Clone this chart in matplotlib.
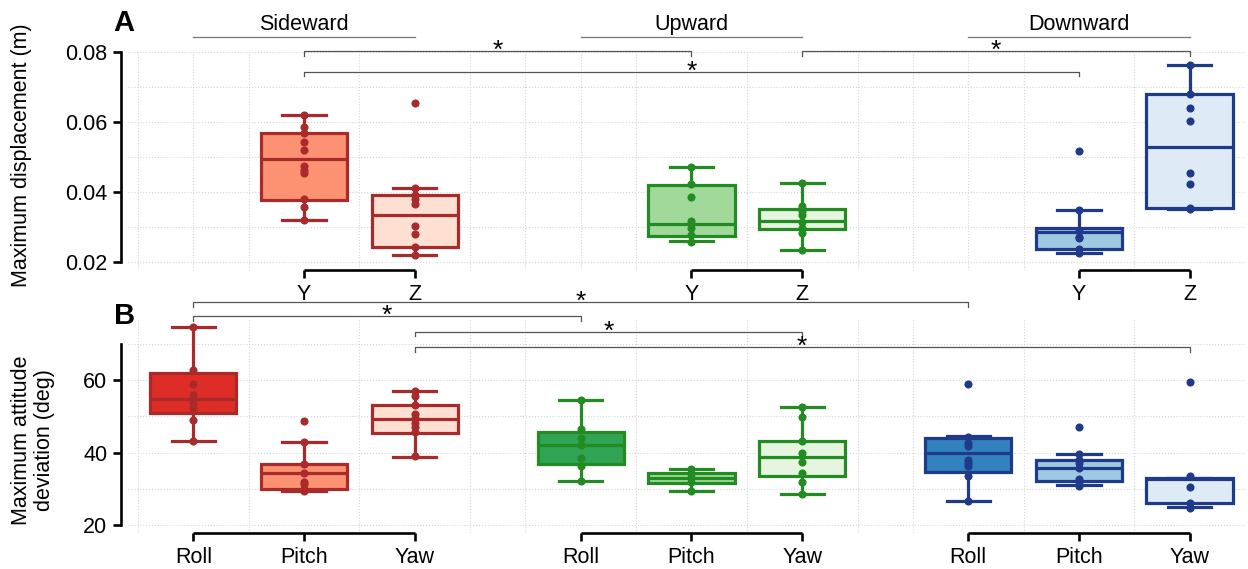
import numpy as np
import matplotlib
matplotlib.use("Agg")
import matplotlib.pyplot as plt

plt.rcParams['font.family'] = ['Liberation Sans', 'DejaVu Sans']

# x positions of the boxes
pos_a = [2, 3, 5.5, 6.5, 9, 10]
pos_b = [1, 2, 3, 4.5, 5.5, 6.5, 8, 9, 10]
labels_a = ['Y', 'Z'] * 3
labels_b = ['Roll', 'Pitch', 'Yaw'] * 3
groups = ['Sideward', 'Upward', 'Downward']

# panel A - maximum displacement (m), box stats
whishi_a = [0.0620, 0.0411, 0.0470, 0.0425, 0.0349, 0.0763]
q3_a = [0.0568, 0.0390, 0.0420, 0.0351, 0.0296, 0.0679]
med_a = [0.0494, 0.0334, 0.0309, 0.0318, 0.0287, 0.0529]
q1_a = [0.0376, 0.0244, 0.0274, 0.0293, 0.0236, 0.0353]
whislo_a = [0.0321, 0.0220, 0.0260, 0.0234, 0.0227, 0.0352]

side_y = [0.0620, 0.0585, 0.0568, 0.0542, 0.0520, 0.0474, 0.0463, 0.0455, 0.0379, 0.0356, 0.0320]
side_z = [0.0653, 0.0411, 0.0391, 0.0379, 0.0366, 0.0303, 0.0279, 0.0244, 0.0220]
up_y = [0.0470, 0.0422, 0.0387, 0.0318, 0.0309, 0.0298, 0.0277, 0.0258]
up_z = [0.0425, 0.0360, 0.0346, 0.0334, 0.0315, 0.0298, 0.0282, 0.0234]
down_y = [0.0518, 0.0349, 0.0289, 0.0272, 0.0268, 0.0236, 0.0227]
down_z = [0.0763, 0.0679, 0.0639, 0.0604, 0.0453, 0.0423, 0.0353, 0.0352]
pts_a = [side_y, side_z, up_y, up_z, down_y, down_z]

# panel B - maximum attitude deviation (deg)
whishi_b = [74.7, 43.0, 57.1, 54.5, 35.4, 52.5, 44.6, 39.5, 33.0]
q3_b = [62.0, 36.8, 53.1, 45.6, 34.4, 43.3, 44.1, 37.9, 32.9]
med_b = [54.7, 34.3, 49.2, 42.1, 32.9, 38.8, 39.9, 35.6, 32.7]
q1_b = [51.0, 29.9, 45.3, 36.8, 31.7, 33.6, 34.7, 32.1, 26.0]
whislo_b = [43.2, 29.4, 38.8, 32.2, 29.3, 28.5, 26.6, 31.0, 25.0]

roll_s = [74.7, 62.8, 58.9, 55.9, 53.6, 52.2, 49.0, 43.2]
pitch_s = [48.7, 43.0, 36.8, 34.3, 31.9, 31.2, 29.9, 29.3]
yaw_s = [57.1, 55.6, 53.0, 50.6, 49.4, 48.2, 46.9, 45.7, 39.0]
roll_u = [54.5, 46.4, 43.9, 42.1, 38.4, 36.3, 32.2]
pitch_u = [35.4, 34.4, 33.3, 31.9, 29.3]
yaw_u = [52.5, 49.9, 43.2, 40.0, 37.3, 34.4, 31.9, 28.5]
roll_d = [58.8, 44.4, 42.7, 41.9, 37.9, 37.2, 36.4, 33.5, 26.5]
pitch_d = [47.1, 39.5, 37.9, 37.2, 35.6, 32.7, 32.0, 30.9]
yaw_d = [59.4, 33.5, 30.6, 26.1, 24.6]
pts_b = [roll_s, pitch_s, yaw_s, roll_u, pitch_u, yaw_u, roll_d, pitch_d, yaw_d]

edge = {'Sideward': '#a82a2a', 'Upward': '#228b22', 'Downward': '#1f3a8a'}
fills_a = ['#fc9272', '#fee0d2', '#a1d99b', '#e5f5e0', '#9ecae1', '#deebf7']
fills_b = ['#de2d26', '#fc9272', '#fee0d2', '#31a354', '#a1d99b', '#e5f5e0',
           '#3182bd', '#9ecae1', '#deebf7']
edges_a = [edge[g] for g in groups for _ in range(2)]
edges_b = [edge[g] for g in groups for _ in range(3)]

W, H = 1248, 569
fig = plt.figure(figsize=(W / 100, H / 100), dpi=100)
axA = fig.add_axes([128 / W, 1 - 270 / H, 1117 / W, 218 / H])
axB = fig.add_axes([128 / W, 1 - 533 / H, 1117 / W, 215 / H])


def draw_boxes(ax, pos, lo, q1, med, q3, hi, pts, fills, edges):
    stats = []
    for i in range(len(pos)):
        stats.append({'whislo': lo[i], 'q1': q1[i], 'med': med[i],
                      'q3': q3[i], 'whishi': hi[i], 'fliers': []})
    for i, p in enumerate(pos):
        lw = 2.3
        ax.bxp([stats[i]], positions=[p], widths=0.78, patch_artist=True,
               showfliers=False, manage_ticks=False,
               boxprops=dict(facecolor=fills[i], edgecolor=edges[i], linewidth=lw),
               medianprops=dict(color=edges[i], linewidth=lw),
               whiskerprops=dict(color=edges[i], linewidth=lw),
               capprops=dict(color=edges[i], linewidth=lw), zorder=3)
        ax.scatter([p] * len(pts[i]), pts[i], s=34, color=edges[i], zorder=4,
                   linewidths=0)


def style(ax, pos, labels, spans, ybounds, yticks, yminor):
    ax.set_xlim(0.41, 10.5)
    for s in ['top', 'right', 'bottom']:
        ax.spines[s].set_visible(False)
    ax.spines['left'].set_position(('outward', 5))
    ax.spines['left'].set_bounds(*ybounds)
    ax.spines['left'].set_linewidth(1.9)
    ax.set_yticks(yticks)
    ax.set_yticks(yminor, minor=True)
    ax.set_xticks(pos)
    ax.set_xticklabels(labels)
    ax.set_xticks(np.arange(0.5, 10.6, 0.5), minor=True)
    ax.tick_params(axis='both', which='major', labelsize=15.5, width=1.9,
                   length=6, pad=4)
    ax.tick_params(axis='both', which='minor', length=0)
    ax.grid(which='both', color='#d6d6d6', linestyle=':', linewidth=0.8)
    ax.grid(which='major', axis='x', visible=False)
    ax.set_axisbelow(True)
    tr = ax.get_xaxis_transform()
    for a, b in spans:
        ax.plot([a, b], [0, 0], color='black', lw=1.9, transform=tr,
                clip_on=False, solid_capstyle='butt')


def bracket(ax, x1, x2, y, h):
    ax.plot([x1, x1, x2, x2], [y - h, y, y, y - h], color='#555555', lw=0.9,
            clip_on=False)
    ax.annotate('*', xy=((x1 + x2) / 2, y), xytext=(0, -5),
                textcoords='offset points', ha='center', va='baseline',
                fontsize=19, annotation_clip=False)


draw_boxes(axA, pos_a, whislo_a, q1_a, med_a, q3_a, whishi_a, pts_a, fills_a, edges_a)
style(axA, pos_a, labels_a, [(2, 3), (5.5, 6.5), (9, 10)], (0.02, 0.08),
      [0.02, 0.04, 0.06, 0.08], [0.03, 0.05, 0.07])
axA.set_ylim(0.0177, 0.08)
axA.set_yticklabels(['0.02', '0.04', '0.06', '0.08'])

draw_boxes(axB, pos_b, whislo_b, q1_b, med_b, q3_b, whishi_b, pts_b, fills_b, edges_b)
style(axB, pos_b, labels_b, [(1, 3), (4.5, 6.5), (8, 10)], (20, 70),
      [20, 40, 60], [30, 50, 70])
axB.set_ylim(17.8, 77.1)

# group headers
for g, (a, b) in zip(groups, [(1, 3), (4.5, 6.5), (8, 10)]):
    axA.plot([a, b], [0.0843, 0.0843], color='#777777', lw=0.9, clip_on=False)
    axA.text((a + b) / 2, 0.0880, g, ha='center', va='center', fontsize=15.5)

# significance brackets
bracket(axA, 2, 5.5, 0.0803, 0.0015)
bracket(axA, 2, 9, 0.0743, 0.0013)
bracket(axA, 6.5, 10, 0.0803, 0.0015)

bracket(axB, 1, 8, 81.4, 1.2)
bracket(axB, 1, 4.5, 77.6, 1.2)
bracket(axB, 3, 6.5, 73.2, 1.2)
bracket(axB, 3, 10, 69.0, 1.2)

fig.text(22 / W, 1 - 155 / H, 'Maximum displacement (m)', rotation=90,
         ha='center', va='center', fontsize=15.5)
fig.text(33 / W, 1 - 440 / H, 'Maximum attitude\ndeviation (deg)', rotation=90,
         ha='center', va='center', fontsize=15.5, multialignment='center',
         linespacing=1.1)
fig.text(124 / W, 1 - 23 / H, 'A', ha='center', va='center', fontsize=21,
         fontweight='bold')
fig.text(125 / W, 1 - 316 / H, 'B', ha='center', va='center', fontsize=21,
         fontweight='bold')

fig.savefig('out.png', dpi=100)
